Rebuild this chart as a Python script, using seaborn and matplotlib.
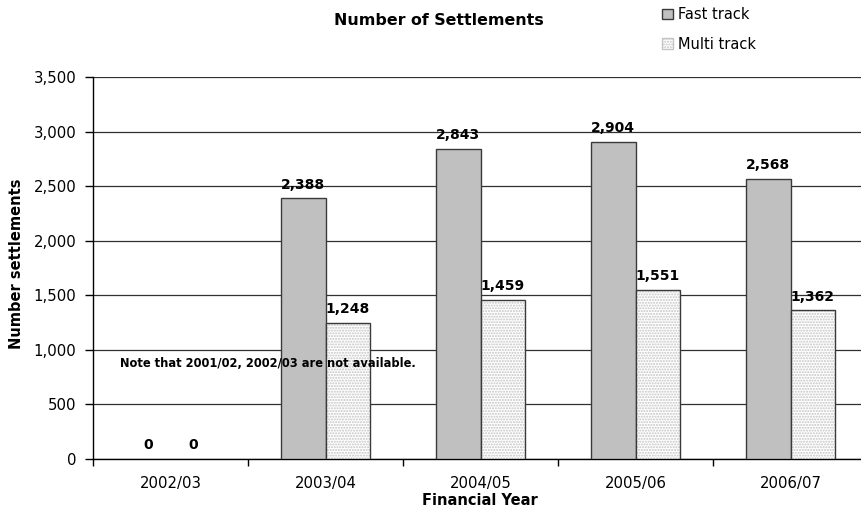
import matplotlib
matplotlib.use("Agg")
import matplotlib.pyplot as plt
from matplotlib.patches import Patch, Rectangle
import seaborn as sns
import pandas as pd

# Settlement counts per financial year
years = ["2002/03", "2003/04", "2004/05", "2005/06", "2006/07"]
fast_track = [0, 2388, 2843, 2904, 2568]
multi_track = [0, 1248, 1459, 1551, 1362]
tracks = ["Fast track", "Multi track"]
y_ticks = [0, 500, 1000, 1500, 2000, 2500, 3000, 3500]

df = pd.DataFrame({
    "year": years * 2,
    "track": [tracks[0]] * len(years) + [tracks[1]] * len(years),
    "settlements": fast_track + multi_track,
})

sns.set_theme(style="white")
plt.rcParams["font.family"] = ["DejaVu Sans"]
plt.rcParams["text.color"] = "black"

W, H = 861, 520
fig = plt.figure(figsize=(W / 100, H / 100), dpi=100)
ax = fig.add_axes([93 / W, 61 / H, 775 / W, 382 / H])

fast_col = "#c0c0c0"
hatch_col = "#c4c4c4"
edge_col = "#3a3a3a"

sns.barplot(
    data=df, x="year", y="settlements", hue="track", hue_order=tracks,
    palette={tracks[0]: fast_col, tracks[1]: "white"},
    width=0.575, saturation=1, errorbar=None, legend=False,
    edgecolor=edge_col, linewidth=1.0, ax=ax, zorder=3,
)

# stippled fill for the multi-track bars, with a dark outline on top
for bar in ax.containers[1]:
    bar.set_hatch("......")
    bar.set_edgecolor(hatch_col)
    bar.set_linewidth(0)
    if bar.get_height() > 0:
        ax.add_patch(Rectangle(bar.get_xy(), bar.get_width(),
                               bar.get_height(), fill=False,
                               edgecolor=edge_col, linewidth=1.0, zorder=4))
for bar in ax.containers[0]:
    if bar.get_height() == 0:
        bar.set_linewidth(0)

for cont in ax.containers:
    ax.bar_label(cont, labels=[f"{v:,.0f}" for v in cont.datavalues],
                 padding=4.8, fontsize=10, fontweight="bold", color="black",
                 zorder=5)

ax.set_xlim(-0.5, len(years) - 0.5)
ax.set_ylim(0, 3500)
ax.set_yticks(y_ticks)
ax.set_yticklabels([f"{v:,}" for v in y_ticks])
ax.yaxis.grid(True, color="#303030", linewidth=0.9)
ax.set_axisbelow(True)

# category tick marks sit between the groups
ax.set_xticks(range(len(years)))
ax.set_xticklabels(years)
ax.set_xticks([i - 0.5 for i in range(len(years) + 1)], minor=True)
ax.tick_params(axis="x", which="major", length=0, pad=12.5, labelsize=10.7,
               labelcolor="black")
ax.tick_params(axis="x", which="minor", length=5, width=1, color="black",
               direction="out", bottom=True)
ax.tick_params(axis="y", length=6, width=1, color="black", direction="out",
               pad=6, labelsize=10.7, labelcolor="black", left=True)

for side in ["top", "right"]:
    ax.spines[side].set_visible(False)
for side in ["left", "bottom"]:
    ax.spines[side].set_color("black")
    ax.spines[side].set_linewidth(1.0)

ax.set_xlabel("")
ax.set_ylabel("")

ax.text(0.626, 879, "Note that 2001/02, 2002/03 are not available.",
        ha="center", va="center", fontsize=8.3, fontweight="bold",
        color="black", zorder=6)

fig.text(439 / W, 1 - 25 / H, "Number of Settlements", ha="center",
         va="baseline", fontsize=11.4, fontweight="bold", color="black")
fig.text(480 / W, 1 - 505 / H, "Financial Year", ha="center",
         va="baseline", fontsize=10.5, fontweight="bold", color="black")
fig.text(16.5 / W, 1 - 264 / H, "Number settlements", ha="center",
         va="center", rotation=90, fontsize=10.5, fontweight="bold",
         color="black")

handles = [
    Patch(facecolor=fast_col, edgecolor=edge_col, linewidth=1.0),
    Patch(facecolor="white", edgecolor=hatch_col, hatch="......",
          linewidth=1.0),
]
leg = fig.legend(handles, tracks, loc="upper left",
                 bbox_to_anchor=(662 / W, 1 - 7 / H), frameon=False,
                 fontsize=10.5, handlelength=0.75, handleheight=0.75,
                 handletextpad=0.35, labelspacing=1.0, borderpad=0,
                 borderaxespad=0)
for t in leg.get_texts():
    t.set_color("black")

fig.savefig("out.png", dpi=100)
